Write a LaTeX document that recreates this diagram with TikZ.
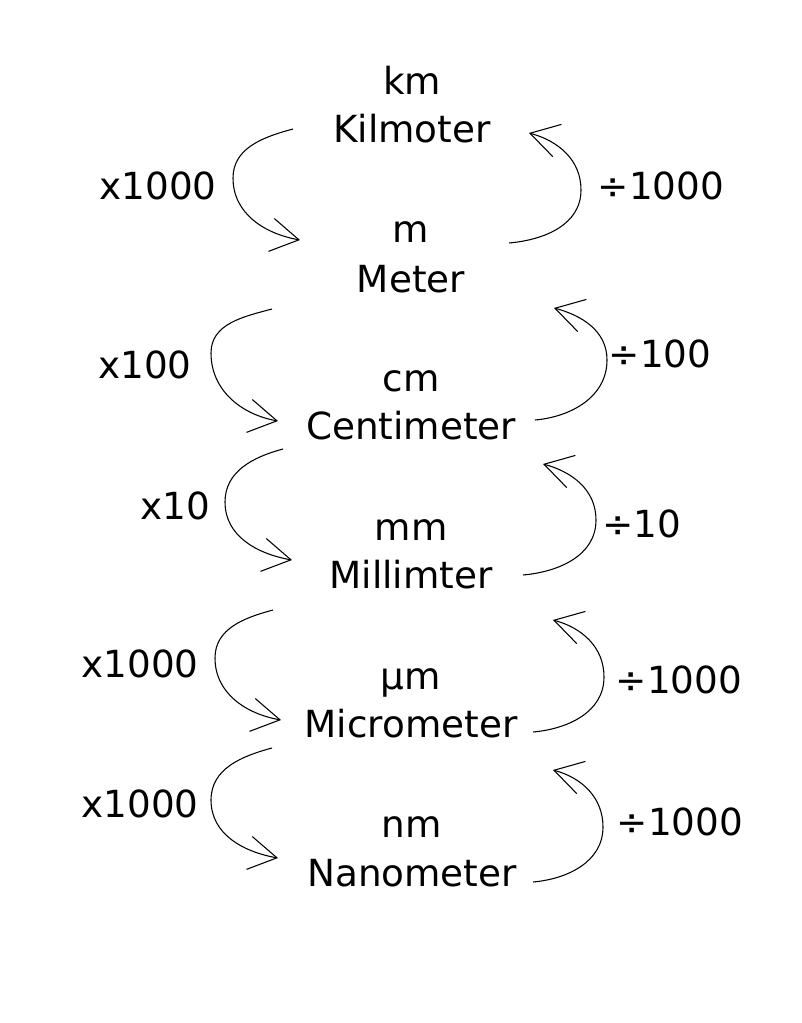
\documentclass[tikz,border=0pt]{standalone}
\usepackage{fontspec}
\setmainfont{DejaVu Sans}
\usetikzlibrary{arrows.meta}

\begin{document}
\begin{tikzpicture}[x=0.75pt, y=-0.75pt]

      % Frame of the picture (1 unit = 1 px of the reference)
      \useasboundingbox (0,0) rectangle (801,1023);

      \tikzset{
            unit/.style = {font=\fontsize{28}{34}\selectfont, inner sep=0pt, anchor=base},
            conv/.style = {line width=0.8pt, -{Straight Barb[length=21pt, width=25pt, line width=0.8pt]}}
      };

      % Units: abbreviation on top, full name below
      \foreach \n/\x/\ya/\yb/\abbr/\full in {
                  km/412/95/143/km/Kilmoter,
                  m/411/243/292/m/Meter,
                  cm/411/391/439/cm/Centimeter,
                  mm/411/540/588/mm/Millimter,
                  um/411/689/737/µm/Micrometer,
                  nm/412/837/886/nm/Nanometer} {
            \node[unit] (\n) at (\x,\ya) {\abbr};
            \node[unit] (\n-name) at (\x,\yb) {\full};
      }

      % Multiply arrows on the left (start, leftmost point, tip, label)
      \foreach \i/\sx/\sy/\lx/\ly/\tx/\ty/\lab/\px/\py in {
                  1/293/129/233/178/300/240/1000/158/200,
                  2/272/309/211/353/278/421/100/145/378,
                  3/283/449/225/502/292/560/10/175/519,
                  4/273/610/215/658/281/720/1000/140/677,
                  5/272/748/211/800/278/858/1000/140/817} {
            \coordinate (mul\i-s) at (\sx,\sy);
            \coordinate (mul\i-m) at (\lx,\ly);
            \coordinate (mul\i-t) at (\tx,\ty);
            \draw[conv] (mul\i-s) to[out=195, in=90] (mul\i-m) to[out=-90, in=170] (mul\i-t);
            \node[unit] (mul\i) at (\px,\py) {x\lab};
      }

      % Divide arrows on the right (bottom, rightmost point, tip, label)
      \foreach \i/\bx/\by/\rx/\ry/\tx/\ty/\lab/\px/\py in {
                  1/509/243/581/190/529/133/1000/661/200,
                  2/535/420/607/360/554/308/100/660/367,
                  3/523/575/596/520/543/464/10/642/537,
                  4/533/732/604/677/553/620/1000/679/693,
                  5/533/882/603/827/553/770/1000/680/835} {
            \coordinate (div\i-s) at (\bx,\by);
            \coordinate (div\i-m) at (\rx,\ry);
            \coordinate (div\i-t) at (\tx,\ty);
            \draw[conv] (div\i-s) to[out=5, in=-90] (div\i-m) to[out=90, in=-15] (div\i-t);
            \node[unit] (div\i) at (\px,\py) {÷\lab};
      }

\end{tikzpicture}
\end{document}
